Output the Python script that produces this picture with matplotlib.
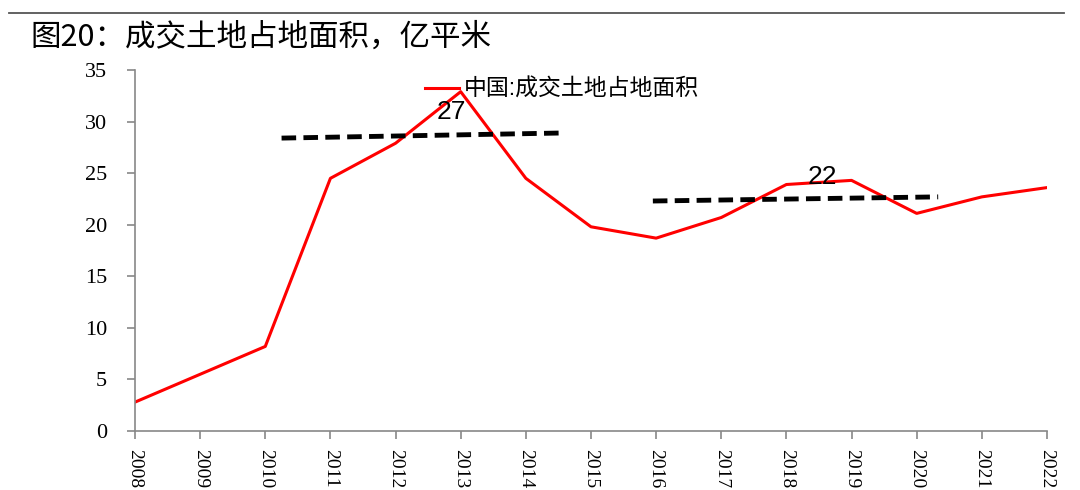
import matplotlib
matplotlib.use("Agg")
import matplotlib.pyplot as plt
from matplotlib.lines import Line2D

years = [2008, 2009, 2010, 2011, 2012, 2013, 2014, 2015, 2016, 2017, 2018, 2019, 2020, 2021, 2022]
area = [2.8, 5.5, 8.2, 24.5, 27.9, 32.9, 24.5, 19.8, 18.7, 20.7, 23.9, 24.3, 21.1, 22.7, 23.6]
series_name = "中国:成交土地占地面积"
title = "图20：成交土地占地面积，亿平米"

avg1_x = [2010.25, 2014.6]
avg1_y = [28.4, 28.9]
avg1_label = "27"
avg2_x = [2015.95, 2020.33]
avg2_y = [22.3, 22.7]
avg2_label = "22"

yticks = [0, 5, 10, 15, 20, 25, 30, 35]

fig = plt.figure(figsize=(10.8, 4.9), dpi=100)
ax = fig.add_axes([0.125, 0.1204, 0.8444, 0.7367])

ax.plot(years, area, color="#ff0000", lw=2.2, label=series_name)
ax.plot(avg1_x, avg1_y, color="black", lw=3.5, ls=(0, (3, 1.5)))
ax.plot(avg2_x, avg2_y, color="black", lw=3.5, ls=(0, (3, 1.5)))

ax.text(2012.85, 30.9, avg1_label, fontsize=19, family=["Liberation Sans"], ha="center", va="center")
ax.text(2018.55, 24.6, avg2_label, fontsize=19, family=["Liberation Sans"], ha="center", va="center")

ax.set_xlim(2008, 2022)
ax.set_ylim(0, 35)
ax.set_yticks(yticks)
ax.set_xticks(years)
ax.set_xticklabels([str(y) for y in years], rotation=-90, family=["Liberation Serif"], fontsize=14)
ax.set_yticklabels([str(v) for v in yticks], family=["Liberation Serif"], fontsize=16)

for s in ["top", "right"]:
    ax.spines[s].set_visible(False)
for s in ["left", "bottom"]:
    ax.spines[s].set_color("#888888")
    ax.spines[s].set_linewidth(1.2)
ax.tick_params(axis="both", color="#888888", length=6, width=1.2, direction="out")
ax.tick_params(axis="y", pad=14)
ax.tick_params(axis="x", pad=7)

leg = ax.legend(loc="upper left", bbox_to_anchor=(0.295, 1.035), frameon=False,
                prop={"family": ["Liberation Sans", "Noto Sans CJK SC"], "size": 16.5},
                handlelength=1.5, handletextpad=0.2)

fig.text(0.028, 0.924, title, fontsize=22, family=["Noto Sans CJK SC"], va="center", ha="left")
fig.add_artist(Line2D([0.008, 0.985], [0.974, 0.974], color="#555555", lw=1.3, transform=fig.transFigure))

fig.savefig("out.png", dpi=100)
